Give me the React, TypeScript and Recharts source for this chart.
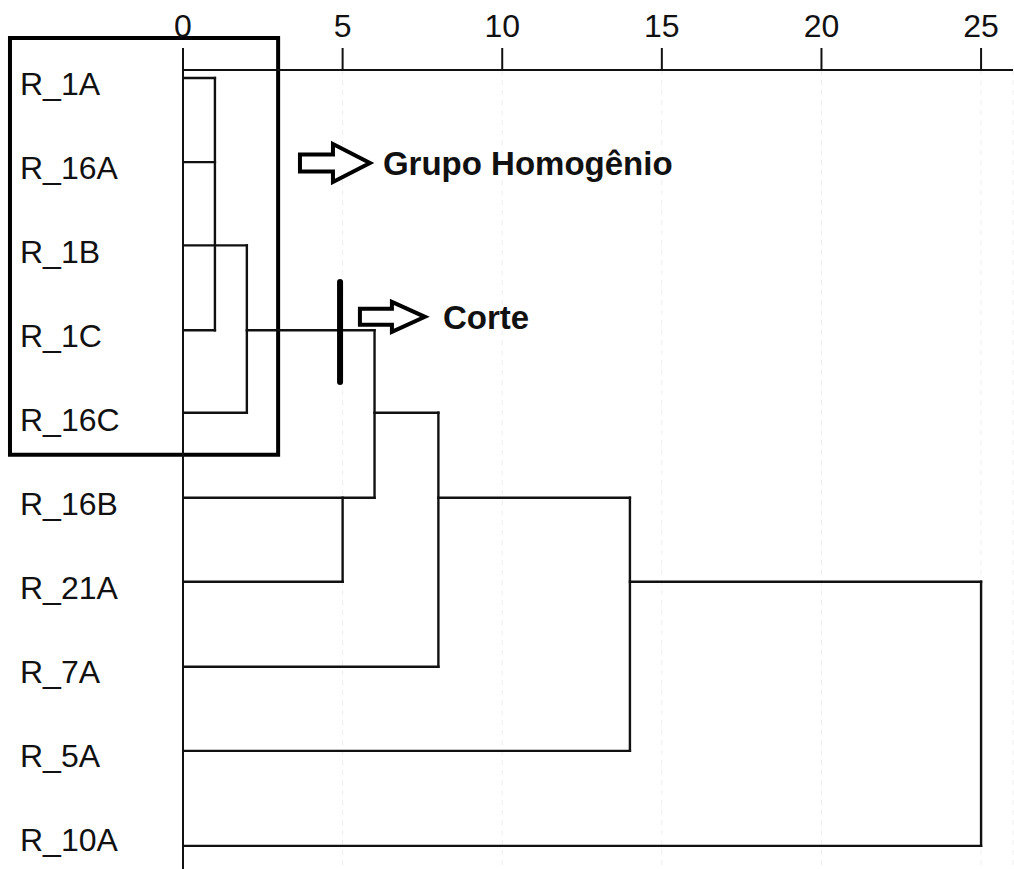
import React from "react";
import {
  ComposedChart,
  Line,
  XAxis,
  YAxis,
  CartesianGrid,
  ReferenceLine,
  ReferenceArea,
  ReferenceDot,
} from "recharts";

// leaves of the dendrogram, top to bottom
const leaves = ["R_1A", "R_16A", "R_1B", "R_1C", "R_16C", "R_16B", "R_21A", "R_7A", "R_5A", "R_10A"];
// row position where each leaf's line is drawn (slightly above its label)
const leafLineY = [-0.06, 0.94, 1.93, 2.94, 3.92, 4.93, 5.93, 6.94, 7.94, 9.07];
// distance where each leaf line stops
const leafReach = [1, 1, 2, 1, 2, 6, 5, 8, 14, 25];

// vertical joins: distance, first row, last row
const mergeHeights = [1, 2, 5, 6, 8, 14, 25];
const mergeTop = [0, 2, 5, 3, 4, 5, 6];
const mergeBottom = [3, 4, 6, 5, 7, 8, 9];

// horizontal links between clusters
const linkRows = [3, 4, 5, 6];
const linkFrom = [2, 6, 8, 14];
const linkTo = [6, 8, 14, 25];

const distanceTicks = [0, 5, 10, 15, 20, 25];
const rowTicks = [0, 1, 2, 3, 4, 5, 6, 7, 8, 9];

// annotations
const cutDistance = 4.92;
const cutRows = [2.366, 3.555];
const groupBox = { x1: -5.42, x2: 2.98, y1: -0.535, y2: 4.42 };

const FONT = "'Liberation Sans', Arial, sans-serif";
const INK = "#111";

type Pt = { x: number; y: number };

const segments: Pt[][] = [
  ...leaves.map((_, i) => [
    { x: 0, y: leafLineY[i] },
    { x: leafReach[i], y: leafLineY[i] },
  ]),
  ...mergeHeights.map((h, i) => [
    { x: h, y: leafLineY[mergeTop[i]] },
    { x: h, y: leafLineY[mergeBottom[i]] },
  ]),
  ...linkRows.map((r, i) => [
    { x: linkFrom[i], y: leafLineY[r] },
    { x: linkTo[i], y: leafLineY[r] },
  ]),
];

function LeafTick(props: any) {
  const { y, payload } = props;
  return (
    <text x={20} y={y} dy={11.5} fontSize={32} fill="#111" fontFamily={FONT}>
      {leaves[payload.value]}
    </text>
  );
}

interface ArrowProps {
  cx?: number;
  cy?: number;
  length: number;
  head: number;
  height: number;
  shaft: number;
  gap: number;
  text: string;
}

function ArrowNote({ cx = 0, cy = 0, length, head, height, shaft, gap, text }: ArrowProps) {
  const l = cx - length / 2;
  const r = cx + length / 2;
  const hx = r - head;
  const d = [
    `M${l},${cy - shaft / 2}`,
    `L${hx},${cy - shaft / 2}`,
    `L${hx},${cy - height / 2}`,
    `L${r},${cy}`,
    `L${hx},${cy + height / 2}`,
    `L${hx},${cy + shaft / 2}`,
    `L${l},${cy + shaft / 2}`,
    "Z",
  ].join(" ");
  return (
    <g>
      <path d={d} fill="#fff" stroke="#000" strokeWidth={4} strokeLinejoin="miter" />
      <text x={r + gap} y={cy + 12} fontSize={33} fontWeight="bold" fill="#111" fontFamily={FONT}>
        {text}
      </text>
    </g>
  );
}

export default function App() {
  return (
    <div
      style={{
        position: "absolute",
        left: 0,
        top: 0,
        width: 1014,
        height: 869,
        background: "#fff",
        fontFamily: FONT,
      }}
    >
      <ComposedChart width={1014} height={869} margin={{ top: 0, right: 1, bottom: 0, left: 0 }}>
        <CartesianGrid horizontal={false} stroke="#efefef" strokeDasharray="5 5" />
        <XAxis
          xAxisId={0}
          orientation="top"
          type="number"
          dataKey="x"
          domain={[0, 26]}
          ticks={distanceTicks}
          interval={0}
          allowDataOverflow
          height={70}
          tickSize={22}
          tickMargin={11}
          tick={{ fontSize: 32, fill: "#111", fontFamily: FONT }}
          axisLine={{ stroke: INK, strokeWidth: 2 }}
          tickLine={{ stroke: INK, strokeWidth: 2 }}
        />
        <YAxis
          yAxisId={0}
          type="number"
          domain={[-0.155, 9.345]}
          reversed
          allowDataOverflow
          ticks={rowTicks}
          interval={0}
          width={183}
          tickLine={false}
          tick={<LeafTick />}
          axisLine={{ stroke: INK, strokeWidth: 2 }}
        />

        {segments.map((seg, i) => (
          <Line
            key={i}
            data={seg}
            dataKey="y"
            type="linear"
            stroke={INK}
            strokeWidth={2.4}
            strokeLinecap="square"
            dot={false}
            activeDot={false}
            isAnimationActive={false}
          />
        ))}

        <ReferenceLine
          segment={[
            { x: cutDistance, y: cutRows[0] },
            { x: cutDistance, y: cutRows[1] },
          ]}
          stroke="#000"
          strokeWidth={6}
          strokeLinecap="round"
        />

        <ReferenceArea
          x1={groupBox.x1}
          x2={groupBox.x2}
          y1={groupBox.y1}
          y2={groupBox.y2}
          fill="none"
          stroke="#000"
          strokeWidth={4}
          ifOverflow="visible"
        />

        <ReferenceDot
          x={4.76}
          y={0.951}
          r={1}
          shape={(p: any) => (
            <ArrowNote cx={p.cx} cy={p.cy} length={70} head={37} height={38} shaft={17} gap={13} text="Grupo Homogênio" />
          )}
        />
        <ReferenceDot
          x={6.56}
          y={2.78}
          r={1}
          shape={(p: any) => (
            <ArrowNote cx={p.cx} cy={p.cy} length={65} head={33} height={30} shaft={16} gap={18} text="Corte" />
          )}
        />
      </ComposedChart>
    </div>
  );
}
